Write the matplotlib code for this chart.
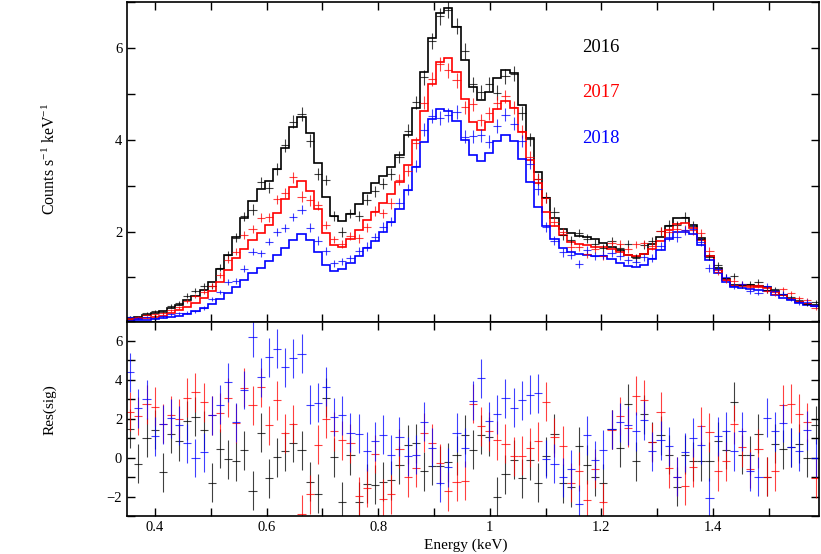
import numpy as np
import matplotlib
matplotlib.use("Agg")
import matplotlib.pyplot as plt
from matplotlib.ticker import MultipleLocator, FuncFormatter

plt.rcParams['font.family'] = ['Liberation Serif', 'DejaVu Serif']
plt.rcParams['mathtext.fontset'] = 'custom'
plt.rcParams['mathtext.rm'] = 'Liberation Serif'
plt.rcParams['mathtext.it'] = 'Liberation Serif:italic'

# energy binning (keV), uniform grid
e_start = 0.3484
bin_w = 0.01462
n_bins = 85

years = ['2016', '2017', '2018']
colors = ['#000000', '#ff0000', '#0000ff']

# folded model, counts s^-1 keV^-1
model_2016 = [0.10, 0.14, 0.19, 0.22, 0.27, 0.33, 0.41, 0.51, 0.60, 0.73,
              0.90, 1.18, 1.49, 1.88, 2.29, 2.67, 2.92, 3.09, 3.36, 3.83,
              4.28, 4.50, 4.15, 3.49, 2.76, 2.33, 2.22, 2.38, 2.60, 2.85,
              3.05, 3.20, 3.41, 3.67, 4.10, 4.70, 5.48, 6.22, 6.76, 6.88,
              6.46, 5.73, 5.14, 4.86, 5.04, 5.35, 5.52, 5.45, 4.75, 4.03,
              3.30, 2.74, 2.29, 2.05, 1.96, 1.91, 1.88, 1.83, 1.76, 1.67,
              1.59, 1.49, 1.44, 1.51, 1.72, 1.89, 2.13, 2.29, 2.30, 2.14,
              1.86, 1.47, 1.20, 0.97, 0.84, 0.83, 0.84, 0.82, 0.79, 0.70,
              0.62, 0.54, 0.47, 0.43, 0.39]
model_2017 = [0.07, 0.09, 0.12, 0.14, 0.17, 0.22, 0.28, 0.36, 0.44, 0.55,
              0.70, 0.91, 1.17, 1.42, 1.62, 1.82, 1.97, 2.15, 2.40, 2.70,
              2.98, 3.10, 2.89, 2.50, 1.96, 1.71, 1.66, 1.83, 2.04, 2.25,
              2.43, 2.62, 2.82, 3.08, 3.45, 4.00, 4.62, 5.22, 5.70, 5.79,
              5.48, 4.88, 4.39, 4.21, 4.39, 4.68, 4.84, 4.70, 4.17, 3.56,
              3.05, 2.43, 2.11, 1.93, 1.78, 1.72, 1.70, 1.67, 1.66, 1.62,
              1.55, 1.49, 1.47, 1.50, 1.62, 1.80, 2.04, 2.16, 2.18, 2.07,
              1.82, 1.47, 1.17, 0.95, 0.82, 0.82, 0.82, 0.80, 0.77, 0.68,
              0.61, 0.53, 0.46, 0.43, 0.38]
model_2018 = [0.06, 0.065, 0.08, 0.09, 0.11, 0.14, 0.17, 0.21, 0.26, 0.33,
              0.43, 0.54, 0.67, 0.80, 0.95, 1.09, 1.20, 1.35, 1.49, 1.65,
              1.82, 1.94, 1.82, 1.55, 1.28, 1.15, 1.18, 1.31, 1.46, 1.64,
              1.80, 1.98, 2.20, 2.50, 2.90, 3.40, 3.95, 4.45, 4.68, 4.62,
              4.41, 3.99, 3.67, 3.54, 3.70, 3.98, 4.10, 3.98, 3.57, 3.07,
              2.54, 2.11, 1.83, 1.64, 1.55, 1.51, 1.49, 1.47, 1.46, 1.40,
              1.31, 1.25, 1.22, 1.28, 1.40, 1.60, 1.83, 1.98, 2.00, 1.95,
              1.71, 1.38, 1.09, 0.91, 0.79, 0.77, 0.75, 0.73, 0.70, 0.62,
              0.55, 0.50, 0.44, 0.41, 0.37]

# residuals in sigma
res_2016 = [1.49, -0.31, 1.02, 1.43, -0.76, 1.23, 0.85, 1.89, 2.11, 1.40,
            -1.28, 0.45, -0.09, -0.19, 0.38, -1.71, 1.28, -1.07, 0.03, 0.33,
            0.76, 0.38, -1.24, -1.85, 3.09, 0.02, -2.26, 0.12, -2.26, -1.33,
            -1.40, -1.23, -1.17, -0.38, 0.66, 0.73, -0.71, -0.41, -0.41, -0.24,
            0.12, 1.19, 0.41, 1.19, 1.07, -2.00, -0.85, -0.10, -1.05, -0.14,
            -1.28, 0.07, 1.24, -1.31, -1.52, 0.60, -0.37, -0.97, -1.31, 1.45,
            0.50, 2.78, -0.19, 2.23, 0.81, 1.16, 0.16, -1.49, 0.14, -0.19,
            -0.19, -0.19, 0.85, 0.40, 2.87, 0.16, 0.12, 1.23, -0.97, 0.71,
            0.43, 0.54, 0.71, -0.02, 1.68]
res_2017 = [2.35, 2.14, 2.75, 2.61, 1.74, 2.19, 2.00, 3.07, 3.35, 2.85,
            2.19, 2.30, 3.09, 1.76, 3.59, 2.69, 3.61, 1.66, 2.94, 1.26,
            1.73, -2.92, -1.88, 0.67, 2.00, 1.35, 0.90, 0.74, -1.97, -1.54,
            0.19, -2.11, -1.88, 0.45, -1.02, -0.52, 1.28, 0.74, -0.29, -1.74,
            -1.23, -1.19, 2.78, 1.62, 1.36, 0.90, 0.71, 0.07, 0.09, 0.50,
            0.85, 2.87, 1.05, 0.62, -1.28, -0.71, -2.16, -0.57, -2.30, 1.43,
            2.14, 1.54, 3.18, 2.97, 0.79, 2.35, -0.54, -0.97, -1.45, -0.50,
            1.62, 1.31, -0.71, -0.19, 1.71, 0.54, -0.57, 0.47, -0.97, -0.71,
            2.71, 2.78, 2.26, 1.81, -1.07]
res_2018 = [4.39, 2.54, 3.00, 1.09, 1.71, 2.02, 1.66, 0.73, -0.02, 0.28,
            2.19, 2.71, 3.87, 1.81, 3.48, 6.20, 4.13, 5.15, 5.60, 4.65,
            5.11, 5.34, 2.73, 2.82, 3.64, 2.09, 2.18, 1.28, 1.22, 0.33,
            0.85, 1.19, 0.16, 1.07, 0.07, 0.16, 1.85, 0.50, -1.28, -0.50,
            1.28, 0.50, 2.92, 4.08, 1.88, 2.23, 3.06, 2.57, 2.94, 3.23,
            3.32, -0.07, -0.31, -1.02, -0.59, -2.40, 1.16, -0.14, 0.40, 1.45,
            1.83, 1.66, 1.36, 1.93, 0.33, 0.90, 0.59, -0.97, 0.28, 1.02,
            0.66, -2.06, 1.11, 1.36, 0.33, 1.36, -0.71, -0.97, 2.06, 1.36,
            1.78, 0.54, 0.33, 1.40, -0.02]

# rough poisson error scale per observation: sigma = k*sqrt(model)
err_k = [0.070, 0.066, 0.072]

models = [model_2016, model_2017, model_2018]
resids = [res_2016, res_2017, res_2018]

edges = e_start + bin_w * np.arange(n_bins + 1)
centers = 0.5 * (edges[:-1] + edges[1:])

fig = plt.figure(figsize=(8.21, 5.54), dpi=100)
W, H = 821.0, 554.0
ax1 = fig.add_axes([127 / W, 1 - 321.5 / H, 692 / W, 319.5 / H])
ax2 = fig.add_axes([127 / W, 1 - 516 / H, 692 / W, 194.5 / H])

for mod, res, k, c in zip(models, resids, err_k, colors):
    mod = np.array(mod)
    res = np.array(res)
    sig = k * np.sqrt(mod)
    data = mod + res * sig
    ax1.errorbar(centers, data, xerr=bin_w / 2, yerr=sig, fmt='none',
                 ecolor=c, elinewidth=0.8, alpha=0.75)
    ax2.errorbar(centers, res, xerr=bin_w / 2, yerr=1.0, fmt='none',
                 ecolor=c, elinewidth=0.8, alpha=0.75)
for mod, c in zip(models, colors):
    ax1.stairs(mod, edges, color=c, lw=1.2)

ax1.text(0.6575, 0.857, years[0], color=colors[0], transform=ax1.transAxes,
         fontsize=13.5, va='center', ha='left')
ax1.text(0.6575, 0.716, years[1], color=colors[1], transform=ax1.transAxes,
         fontsize=13.5, va='center', ha='left')
ax1.text(0.6575, 0.574, years[2], color=colors[2], transform=ax1.transAxes,
         fontsize=13.5, va='center', ha='left')

for ax in (ax1, ax2):
    ax.set_xlim(0.35, 1.59)
    ax.xaxis.set_major_locator(MultipleLocator(0.2))
    ax.xaxis.set_minor_locator(MultipleLocator(0.1))
    ax.yaxis.set_minor_locator(MultipleLocator(1))
    ax.tick_params(which='both', direction='in', top=True, right=True,
                   length=6, width=1.0, labelsize=10.5)
    for s in ax.spines.values():
        s.set_linewidth(1.2)

ax1.set_ylim(0.04, 7.0)
ax1.yaxis.set_major_locator(MultipleLocator(2))
ax1.tick_params(labelbottom=False)
ax2.set_ylim(-3, 7)
ax2.yaxis.set_major_locator(MultipleLocator(2))
ax2.xaxis.set_major_formatter(FuncFormatter(lambda v, p: '%g' % round(v, 3)))

fig.text(50 / W, 1 - 159 / H, r'Counts s$^{-1}$ keV$^{-1}$', rotation=90,
         ha='center', va='center', fontsize=11.5)
fig.text(50 / W, 1 - 410 / H, 'Res(sig)', rotation=90,
         ha='center', va='center', fontsize=11)
fig.text(466 / W, 1 - 545 / H, 'Energy (keV)', ha='center', va='center',
         fontsize=11)

fig.savefig('out.png', dpi=100)
